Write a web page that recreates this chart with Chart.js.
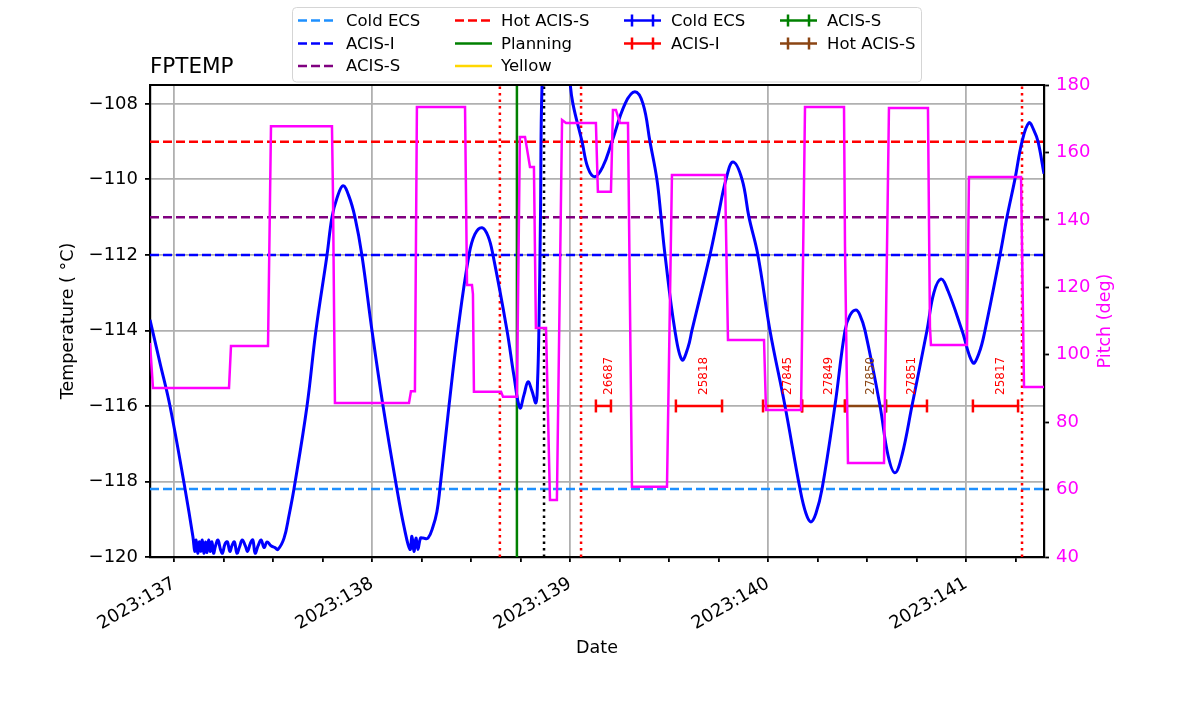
<!DOCTYPE html>
<html>
<head>
<meta charset="utf-8">
<title>FPTEMP</title>
<script src="https://cdn.jsdelivr.net/npm/chart.js@4.4.1/dist/chart.umd.min.js"></script>
<style>
    html, body { margin: 0; padding: 0; background: #ffffff; }
    #wrap { width: 1200px; height: 714px; }
</style>
</head>
<body>
<div id="wrap"><canvas id="fptempChart" width="1200" height="714"></canvas></div>
<script>
// Time axis is day-of-year 2023 (fractional days)
const X_MIN = 136.879;
const X_MAX = 141.394;
const dayTicks = [137, 138, 139, 140, 141];
const tempTicks = [-120, -118, -116, -114, -112, -110, -108];
const pitchTicks = [40, 60, 80, 100, 120, 140, 160, 180];

// FPTEMP (deg C)
const tempTimes = [
    136.879, 136.929, 136.980, 137.056, 137.096,
    137.105, 137.112, 137.120, 137.128, 137.136, 137.143, 137.151, 137.159, 137.167, 137.175,
    137.183, 137.192, 137.200, 137.210, 137.222, 137.235, 137.245, 137.258, 137.270, 137.282,
    137.293, 137.305, 137.318, 137.330, 137.345, 137.360, 137.372, 137.385, 137.398, 137.410,
    137.425, 137.440, 137.455, 137.470, 137.490, 137.510,
    137.525, 137.556, 137.581, 137.606, 137.672, 137.717, 137.773, 137.798, 137.823, 137.854,
    137.884, 137.914, 137.949, 138.000, 138.056, 138.126, 138.162, 138.192,
    138.202, 138.212, 138.222, 138.232, 138.245, 138.258, 138.283, 138.308, 138.328, 138.343,
    138.389, 138.434, 138.490, 138.520, 138.556, 138.586, 138.611, 138.682, 138.717, 138.747,
    138.768, 138.788, 138.808, 138.828, 138.836, 138.843, 138.851, 138.859, 138.889, 138.929,
    138.970, 139.000, 139.015, 139.061, 139.091, 139.126, 139.167, 139.212, 139.278, 139.328,
    139.369, 139.404, 139.439, 139.460, 139.480, 139.530, 139.566, 139.596, 139.616, 139.707,
    139.747, 139.788, 139.823, 139.869, 139.904, 139.949, 140.010, 140.086, 140.162, 140.192,
    140.217, 140.242, 140.273, 140.338, 140.389, 140.414, 140.444, 140.465, 140.490, 140.566,
    140.606, 140.641, 140.677, 140.727, 140.803, 140.838, 140.874, 140.909, 140.980, 141.035,
    141.066, 141.096, 141.172, 141.207, 141.247, 141.283, 141.318, 141.343, 141.364, 141.394
];
const tempValues = [
    -113.72, -114.85, -116.0, -118.2, -119.47,
    -119.85, -119.55, -119.9, -119.6, -119.85, -119.55, -119.9, -119.6, -119.88, -119.55,
    -119.85, -119.6, -119.9, -119.7, -119.55, -119.8, -119.9, -119.65, -119.6, -119.85,
    -119.7, -119.6, -119.9, -119.75, -119.55, -119.7, -119.85, -119.65, -119.55, -119.9,
    -119.7, -119.55, -119.75, -119.6, -119.7, -119.75,
    -119.8, -119.5, -118.9, -118.2, -116.0, -114.0, -112.0, -111.0, -110.5, -110.17,
    -110.45, -111.0, -112.0, -114.0, -116.0, -118.2, -119.2, -119.8,
    -119.45, -119.85, -119.5, -119.8, -119.5, -119.5, -119.5, -119.2, -118.8, -118.2,
    -116.0, -114.0, -112.0, -111.45, -111.28, -111.5, -112.0, -114.0, -115.2, -116.05,
    -115.7, -115.36, -115.6, -115.92, -115.4, -114.0, -111.0, -107.5, -104.5, -103.5,
    -105.0, -107.4, -108.0, -109.0, -109.7, -109.93, -109.65, -109.0, -108.0, -107.68,
    -108.0, -109.0, -110.0, -111.0, -112.0, -114.0, -114.78, -114.45, -114.0, -112.0,
    -111.0, -110.0, -109.54, -110.0, -111.0, -112.0, -114.0, -116.0, -118.2, -118.85,
    -119.07, -118.85, -118.2, -116.0, -114.0, -113.6, -113.46, -113.6, -114.0, -116.0,
    -117.3, -117.77, -117.3, -116.0, -114.0, -113.0, -112.64, -112.95, -114.0, -114.86,
    -114.6, -114.0, -112.0, -111.0, -110.0, -109.0, -108.5, -108.7, -109.0, -109.85
];

// Pitch (deg)
const pitchTimes = [
    136.879, 136.884, 136.894, 137.278, 137.288, 137.475, 137.490, 137.798, 137.803, 137.813,
    138.187, 138.197, 138.217, 138.227, 138.470, 138.480, 138.505, 138.510, 138.515, 138.652,
    138.662, 138.732, 138.747, 138.773, 138.798, 138.818, 138.828, 138.879, 138.899, 138.934,
    138.960, 138.980, 139.131, 139.141, 139.207, 139.217, 139.232, 139.253, 139.293, 139.313,
    139.490, 139.515, 139.783, 139.798, 139.980, 139.990, 140.167, 140.172, 140.187, 140.384,
    140.389, 140.404, 140.586, 140.611, 140.808, 140.818, 140.823, 141.005, 141.015, 141.278,
    141.293, 141.394
];
const pitchValues = [
    103.5, 103.5, 90.1, 90.1, 102.6, 102.6, 167.8, 167.8, 148.0, 85.7,
    85.7, 89.2, 89.2, 173.5, 173.5, 120.7, 120.7, 118.0, 89.0, 89.0,
    87.5, 87.5, 164.6, 164.6, 155.7, 155.7, 107.9, 107.9, 56.9, 56.9,
    169.6, 168.7, 168.7, 148.3, 148.3, 172.6, 172.6, 168.7, 168.7, 60.8,
    60.8, 153.3, 153.3, 104.4, 104.4, 83.6, 83.6, 105.3, 173.5, 173.5,
    132.0, 67.9, 67.9, 173.2, 173.2, 108.2, 102.9, 102.9, 152.7, 152.7,
    90.4, 90.4
];

// Limits (deg C)
const limitNames = ['Cold ECS', 'ACIS-I', 'ACIS-S', 'Hot ACIS-S'];
const limitValues = [-118.2, -112, -111, -109];

// Event markers
const redLineTimes = [138.646, 139.056, 141.283];
const planningTime = 138.732;
const nowTime = 138.869;

// Observations
const obsIds = ['26687', '25818', '27845', '27849', '27850', '27851', '25817'];
const obsStart = [139.131, 139.535, 139.975, 140.172, 140.389, 140.596, 141.035];
const obsStop = [139.207, 139.768, 140.172, 140.389, 140.596, 140.803, 141.263];
const obsMode = ['ACIS-I', 'ACIS-I', 'ACIS-I', 'ACIS-I', 'Hot ACIS-S', 'ACIS-I', 'ACIS-I'];
const obsLevel = -116;

// styles
const FONT = '"DejaVu Sans", "Liberation Sans", sans-serif';
const limitColors = { 'Cold ECS': '#1e90ff', 'ACIS-I': '#0000ff', 'ACIS-S': '#800080', 'Hot ACIS-S': '#ff0000' };
const modeColors = { 'Cold ECS': '#0000ff', 'ACIS-I': '#ff0000', 'ACIS-S': '#008000', 'Hot ACIS-S': '#8b4513' };
const MAGENTA = '#ff00ff';
const GRID = '#b0b0b0';
const DASH = [9, 4];
const DOT = [2.5, 4];

const legendColumns = [
    [['Cold ECS', 'dash', '#1e90ff'], ['ACIS-I', 'dash', '#0000ff'], ['ACIS-S', 'dash', '#800080']],
    [['Hot ACIS-S', 'dash', '#ff0000'], ['Planning', 'solid', '#008000'], ['Yellow', 'solid', '#ffd700']],
    [['Cold ECS', 'errbar', '#0000ff'], ['ACIS-I', 'errbar', '#ff0000']],
    [['ACIS-S', 'errbar', '#008000'], ['Hot ACIS-S', 'errbar', '#8b4513']]
];

const datasets = [];

datasets.push({
    label: 'FPTEMP',
    data: tempTimes.map((t, i) => ({ x: t, y: tempValues[i] })),
    borderColor: '#0000ff',
    borderWidth: 3,
    pointRadius: 0,
    tension: 0.4,
    yAxisID: 'y',
    order: 1
});

datasets.push({
    label: 'Pitch',
    data: pitchTimes.map((t, i) => ({ x: t, y: pitchValues[i] })),
    borderColor: MAGENTA,
    borderWidth: 2.5,
    pointRadius: 0,
    tension: 0,
    yAxisID: 'y1',
    order: 0
});

limitValues.forEach((v, i) => {
    datasets.push({
        label: limitNames[i],
        data: [{ x: X_MIN, y: v }, { x: X_MAX, y: v }],
        borderColor: limitColors[limitNames[i]],
        borderWidth: 2.5,
        borderDash: DASH,
        pointRadius: 0,
        yAxisID: 'y',
        order: 5
    });
});

function vline(t, color, dash) {
    return {
        data: [{ x: t, y: -120 }, { x: t, y: -107.5 }],
        borderColor: color,
        borderWidth: 2.5,
        borderDash: dash,
        pointRadius: 0,
        yAxisID: 'y',
        order: 3
    };
}
redLineTimes.forEach(t => datasets.push(vline(t, '#ff0000', DOT)));
datasets.push(vline(planningTime, '#008000', []));
datasets.push(vline(nowTime, '#000000', DOT));

obsIds.forEach((id, i) => {
    const c = modeColors[obsMode[i]];
    datasets.push({
        label: id,
        data: [{ x: obsStart[i], y: obsLevel }, { x: obsStop[i], y: obsLevel }],
        borderColor: c,
        borderWidth: 2.5,
        pointStyle: 'line',
        rotation: 90,
        pointRadius: 6.5,
        pointBorderWidth: 2.5,
        pointBorderColor: c,
        pointHoverRadius: 6.5,
        yAxisID: 'y',
        order: 2
    });
});

function drawHandle(ctx, kind, color, x, y) {
    ctx.save();
    ctx.strokeStyle = color;
    ctx.lineWidth = 2.5;
    if (kind === 'dash') ctx.setLineDash(DASH);
    ctx.beginPath();
    ctx.moveTo(x, y);
    ctx.lineTo(x + 37, y);
    ctx.stroke();
    if (kind === 'errbar') {
        ctx.setLineDash([]);
        ctx.beginPath();
        ctx.moveTo(x + 8, y - 6); ctx.lineTo(x + 8, y + 6);
        ctx.moveTo(x + 29, y - 6); ctx.lineTo(x + 29, y + 6);
        ctx.stroke();
    }
    ctx.restore();
}

const overlayPlugin = {
    id: 'overlay',
    afterDatasetsDraw(chart) {
        const { ctx, scales } = chart;
        ctx.save();
        ctx.font = '12px ' + FONT;
        ctx.textAlign = 'left';
        ctx.textBaseline = 'middle';
        obsIds.forEach((id, i) => {
            const xc = scales.x.getPixelForValue((obsStart[i] + obsStop[i]) / 2);
            const yb = scales.y.getPixelForValue(obsLevel);
            ctx.save();
            ctx.translate(xc + 5, yb - 11);
            ctx.rotate(-Math.PI / 2);
            ctx.fillStyle = modeColors[obsMode[i]];
            ctx.fillText(id, 0, 0);
            ctx.restore();
        });
        ctx.restore();
    },
    afterDraw(chart) {
        const { ctx, chartArea } = chart;
        ctx.save();
        // top spine
        ctx.strokeStyle = '#000';
        ctx.lineWidth = 2.2;
        ctx.beginPath();
        ctx.moveTo(chartArea.left - 1, chartArea.top);
        ctx.lineTo(chartArea.right + 1, chartArea.top);
        ctx.stroke();

        // title
        ctx.fillStyle = '#000';
        ctx.font = '21.5px ' + FONT;
        ctx.textAlign = 'left';
        ctx.textBaseline = 'alphabetic';
        ctx.fillText('FPTEMP', chartArea.left, 72.5);

        // right axis title, reading bottom to top
        ctx.save();
        ctx.translate(1105, (chartArea.top + chartArea.bottom) / 2);
        ctx.rotate(-Math.PI / 2);
        ctx.fillStyle = MAGENTA;
        ctx.font = '17.5px ' + FONT;
        ctx.textAlign = 'center';
        ctx.textBaseline = 'middle';
        ctx.fillText('Pitch (deg)', 0, 0);
        ctx.restore();

        // legend box
        const bx = 292.5, by = 7.5, bw = 629, bh = 74.5, r = 4;
        ctx.beginPath();
        ctx.moveTo(bx + r, by);
        ctx.arcTo(bx + bw, by, bx + bw, by + bh, r);
        ctx.arcTo(bx + bw, by + bh, bx, by + bh, r);
        ctx.arcTo(bx, by + bh, bx, by, r);
        ctx.arcTo(bx, by, bx + bw, by, r);
        ctx.closePath();
        ctx.fillStyle = 'rgba(255,255,255,0.8)';
        ctx.fill();
        ctx.strokeStyle = '#d5d5d5';
        ctx.lineWidth = 1;
        ctx.stroke();

        const handleX = [298, 455, 624, 780];
        const textX = [346, 501, 671, 827];
        const rowY = [20.5, 43.5, 66];
        ctx.font = '16.5px ' + FONT;
        ctx.textBaseline = 'middle';
        legendColumns.forEach((col, ci) => {
            col.forEach((entry, ri) => {
                drawHandle(ctx, entry[1], entry[2], handleX[ci], rowY[ri]);
                ctx.fillStyle = '#000';
                ctx.fillText(entry[0], textX[ci], rowY[ri] + 1);
            });
        });
        ctx.restore();
    }
};

const xTickValues = [];
dayTicks.forEach(d => [0, 0.25, 0.5, 0.75].forEach(f => {
    const v = d + f;
    if (v >= X_MIN && v <= X_MAX) xTickValues.push(v);
}));

const ctxFp = document.getElementById('fptempChart').getContext('2d');
const fptempChart = new Chart(ctxFp, {
    type: 'line',
    data: { datasets: datasets },
    options: {
        responsive: false,
        animation: false,
        events: [],
        layout: { padding: { left: 54, right: 80.5, top: 85, bottom: 51.5 } },
        plugins: {
            legend: { display: false },
            tooltip: { enabled: false },
            title: { display: false }
        },
        scales: {
            x: {
                type: 'linear',
                min: X_MIN,
                max: X_MAX,
                afterBuildTicks: s => { s.ticks = xTickValues.map(v => ({ value: v })); },
                afterFit: s => { s.height = 105.5; },
                ticks: {
                    autoSkip: false,
                    maxRotation: 30,
                    minRotation: 30,
                    color: '#000',
                    padding: 11,
                    font: { family: FONT, size: 18 },
                    callback: v => dayTicks.includes(v) ? '2023:' + v : ''
                },
                grid: {
                    color: c => (c.tick && dayTicks.includes(c.tick.value)) ? GRID : 'rgba(0,0,0,0)',
                    lineWidth: 1.8,
                    tickColor: '#000',
                    tickLength: 5,
                    tickWidth: 1.8
                },
                border: { color: '#000', width: 2.2 },
                title: { display: true, text: 'Date', color: '#000', font: { family: FONT, size: 17.5 } }
            },
            y: {
                type: 'linear',
                position: 'left',
                min: -120,
                max: -107.5,
                afterBuildTicks: s => { s.ticks = tempTicks.map(v => ({ value: v })); },
                afterFit: s => { s.width = 96; },
                ticks: {
                    color: '#000',
                    padding: 7,
                    font: { family: FONT, size: 18 },
                    callback: v => (v < 0 ? '\u2212' : '') + Math.abs(v)
                },
                grid: { color: GRID, lineWidth: 1.8, tickColor: '#000', tickLength: 5, tickWidth: 1.8 },
                border: { color: '#000', width: 2.2 },
                title: { display: true, text: 'Temperature ( \u00b0C)', color: '#000', font: { family: FONT, size: 17.5 } }
            },
            y1: {
                type: 'linear',
                position: 'right',
                min: 40,
                max: 180,
                afterBuildTicks: s => { s.ticks = pitchTicks.map(v => ({ value: v })); },
                afterFit: s => { s.width = 75.5; },
                ticks: {
                    color: MAGENTA,
                    padding: 7,
                    font: { family: FONT, size: 18 }
                },
                grid: { drawOnChartArea: false, tickColor: '#000', tickLength: 5, tickWidth: 1.8 },
                border: { color: '#000', width: 2.2 },
                title: { display: false }
            }
        }
    },
    plugins: [overlayPlugin]
});
</script>
</body>
</html>
